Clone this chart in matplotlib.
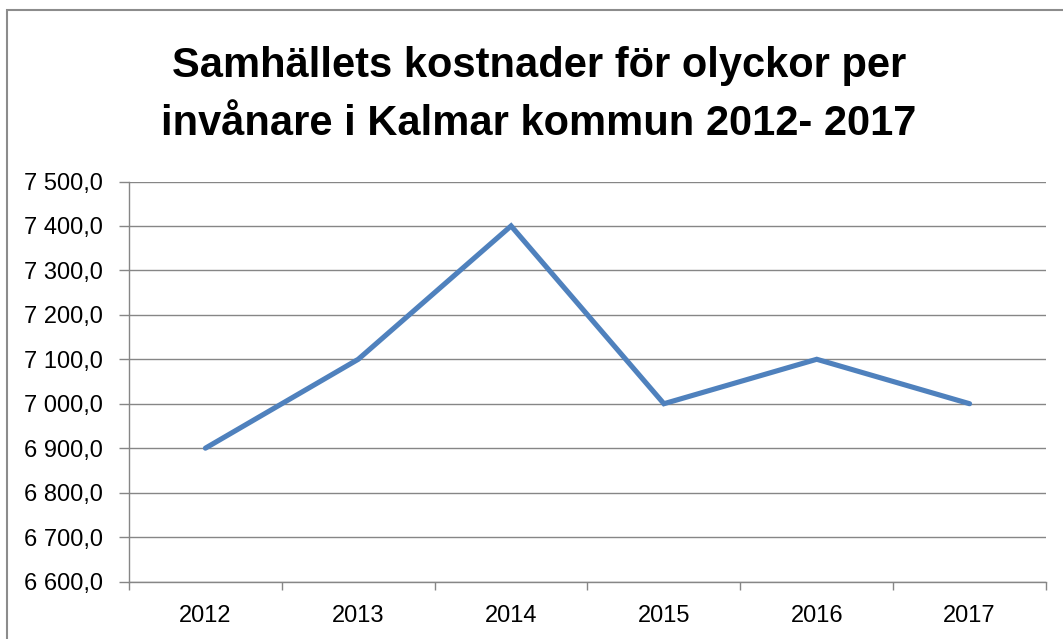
import matplotlib
matplotlib.use("Agg")
import matplotlib.pyplot as plt
from matplotlib.patches import Rectangle
from matplotlib.ticker import FixedLocator, FuncFormatter

years = ["2012", "2013", "2014", "2015", "2016", "2017"]
values = [6900, 7100, 7400, 7000, 7100, 7000]
y_ticks = [6600, 6700, 6800, 6900, 7000, 7100, 7200, 7300, 7400, 7500]
title = "Samhällets kostnader för olyckor per\ninvånare i Kalmar kommun 2012- 2017"

W, H = 1063, 639
fig = plt.figure(figsize=(W / 100, H / 100), dpi=100)
fig.patch.set_facecolor("white")

fontlist = ["Liberation Sans", "DejaVu Sans"]

# outer chart border (cropped at right/bottom)
fig.patches.append(Rectangle((7 / W, -0.2), 1.5, 1 - 10 / 639 + 0.2,
                             transform=fig.transFigure, fill=False,
                             edgecolor="#8c8c8c", linewidth=1.5))

ax = fig.add_axes([129 / W, 1 - 581.5 / H, (1046 - 129) / W, (581.5 - 181.5) / H])
x = list(range(len(years)))
ax.plot(x, values, color="#4F81BD", linewidth=3.7, solid_capstyle="round",
        solid_joinstyle="miter")
ax.set_xlim(-0.5, len(years) - 0.5)
ax.set_ylim(y_ticks[0], y_ticks[-1])

ax.yaxis.set_major_locator(FixedLocator(y_ticks))
ax.yaxis.set_major_formatter(FuncFormatter(
    lambda v, p: f"{int(v) // 1000} {int(v) % 1000:03d},0"))
ax.set_xticks(x)
ax.set_xticklabels(years)
ax.xaxis.set_minor_locator(FixedLocator([i - 0.5 for i in range(len(years) + 1)]))
ax.tick_params(axis="x", which="major", length=0, pad=17)
ax.tick_params(axis="x", which="minor", length=6, color="#868686", width=1)
ax.tick_params(axis="y", length=7, color="#868686", width=1, pad=12)

for lbl in ax.get_xticklabels() + ax.get_yticklabels():
    lbl.set_fontfamily(fontlist)
    lbl.set_fontsize(17)
    lbl.set_color("black")

ax.grid(axis="y", color="#868686", linewidth=1)
ax.set_axisbelow(True)
for s in ["top", "right"]:
    ax.spines[s].set_visible(False)
ax.spines["left"].set_color("#868686")
ax.spines["bottom"].set_color("#868686")
ax.spines["left"].set_linewidth(1)
ax.spines["bottom"].set_linewidth(1)

fig.text(0.507, 1 - 95 / H, title, ha="center", va="center",
         fontsize=30, fontweight="bold", family=fontlist, linespacing=1.55)

fig.savefig("out.png", dpi=100, facecolor="white")
